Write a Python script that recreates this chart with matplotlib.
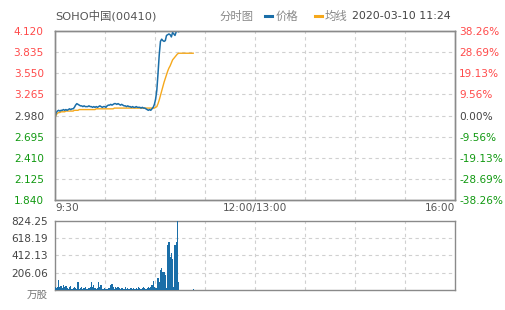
import matplotlib
matplotlib.use("Agg")
import matplotlib.pyplot as plt
import numpy as np

# ---------------- data ----------------
minutes = list(range(115))  # 9:30 .. 11:24
price = [2.95, 3.02, 3.04, 3.05, 3.04, 3.05, 3.05, 3.06, 3.05, 3.06,
         3.05, 3.06, 3.07, 3.06, 3.07, 3.07, 3.09, 3.12, 3.14, 3.13,
         3.12, 3.11, 3.11, 3.10, 3.11, 3.10, 3.10, 3.10, 3.11, 3.10,
         3.10, 3.09, 3.10, 3.09, 3.10, 3.09, 3.10, 3.11, 3.10, 3.09,
         3.10, 3.10, 3.09, 3.11, 3.12, 3.12, 3.13, 3.12, 3.13, 3.14,
         3.14, 3.13, 3.14, 3.13, 3.12, 3.13, 3.12, 3.11, 3.11, 3.10,
         3.11, 3.10, 3.10, 3.09, 3.10, 3.09, 3.09, 3.10, 3.09, 3.09,
         3.09, 3.08, 3.09, 3.08, 3.08, 3.07, 3.06, 3.05, 3.06, 3.05,
         3.07, 3.09, 3.13, 3.20, 3.32, 3.55, 3.80, 3.98, 4.01, 3.99,
         3.98, 3.99, 4.06, 4.07, 4.08, 4.07, 4.04, 4.10, 4.08, 4.06,
         4.11, 4.12, 4.11, 4.12, 4.12, 4.12, 4.12, 4.12, 4.12, 4.12,
         4.12, 4.12, 4.12, 4.12, 4.12]
avg = [2.95, 2.99, 3.01, 3.02, 3.02, 3.03, 3.03, 3.03, 3.03, 3.04,
       3.04, 3.04, 3.04, 3.04, 3.04, 3.04, 3.05, 3.05, 3.05, 3.05,
       3.06, 3.06, 3.06, 3.06, 3.06, 3.06, 3.06, 3.06, 3.06, 3.06,
       3.06, 3.06, 3.06, 3.06, 3.07, 3.07, 3.07, 3.07, 3.07, 3.07,
       3.07, 3.07, 3.07, 3.07, 3.07, 3.07, 3.07, 3.07, 3.07, 3.08,
       3.08, 3.08, 3.08, 3.08, 3.08, 3.08, 3.08, 3.08, 3.08, 3.08,
       3.08, 3.08, 3.08, 3.08, 3.08, 3.08, 3.08, 3.08, 3.08, 3.08,
       3.08, 3.08, 3.08, 3.08, 3.08, 3.08, 3.08, 3.08, 3.08, 3.08,
       3.08, 3.08, 3.08, 3.09, 3.10, 3.14, 3.19, 3.25, 3.31, 3.37,
       3.43, 3.48, 3.53, 3.58, 3.62, 3.65, 3.69, 3.73, 3.75, 3.77,
       3.79, 3.81, 3.82, 3.82, 3.82, 3.82, 3.82, 3.82, 3.82, 3.82,
       3.82, 3.82, 3.82, 3.82, 3.82]
volume = [30, 20, 40, 120, 30, 45, 20, 60, 40, 50,
          25, 15, 30, 45, 10, 20, 35, 25, 10, 95,
          15, 20, 30, 15, 25, 40, 15, 10, 20, 35,
          95, 30, 60, 20, 15, 25, 95, 40, 55, 10,
          15, 20, 15, 10, 20, 25, 60, 75, 40, 15,
          30, 20, 35, 20, 15, 25, 20, 15, 30, 15,
          20, 10, 25, 20, 15, 20, 10, 25, 15, 30,
          20, 15, 25, 40, 20, 15, 20, 35, 25, 30,
          60, 110, 30, 20, 20, 140, 90, 240, 260, 220,
          215, 180, 20, 535, 575, 400, 440, 375, 30, 535,
          570, 824.25, 100, 0, 0, 0, 0, 0, 0, 0,
          0, 0, 0, 0, 12]

prev_close = 2.980
price_ticks = [1.840, 2.125, 2.410, 2.695, 2.980, 3.265, 3.550, 3.835, 4.120]
pct_ticks = [-38.26, -28.69, -19.13, -9.56, 0.00, 9.56, 19.13, 28.69, 38.26]
vol_ticks = [206.06, 412.13, 618.19, 824.25]
time_ticks = [0, 165, 330]
time_labels = ["9:30", "12:00/13:00", "16:00"]
total_minutes = 330

# ---------------- style ----------------
RED = "#ff4a4a"
GREEN = "#119911"
GRAY = "#444444"
BLUE = "#1a6ea8"
ORANGE = "#f5a81c"
FRAME = "#8a8a8a"
GRID = "#d0d0d0"
FS = 7.6
CJK = ["DejaVu Sans", "Noto Sans CJK SC"]

fig = plt.figure(figsize=(5.05, 3.10), dpi=100)
W, H = 505, 310

def axrect(x0, y0, x1, y1):
    return [x0 / W, 1 - y1 / H, (x1 - x0) / W, (y1 - y0) / H]

ax = fig.add_axes(axrect(55, 31, 455, 200))
axv = fig.add_axes(axrect(55, 221, 455, 290))

vgrid = [total_minutes * k / 8 for k in range(1, 8)]

# main price axes
ax.set_xlim(0, total_minutes)
ax.set_ylim(price_ticks[0], price_ticks[-1])
for g in vgrid:
    ax.axvline(g, color=GRID, lw=0.8, ls=(0, (3, 3)), zorder=0)
for t in price_ticks[1:-1]:
    ax.axhline(t, color=GRID, lw=0.8, ls=(0, (3, 3)), zorder=0)
ax.plot(minutes, avg, color=ORANGE, lw=1.0, zorder=3)
ax.plot(minutes, price, color=BLUE, lw=1.1, zorder=4)

ax.set_yticks(price_ticks)
ax.set_yticklabels([f"{t:.3f}" for t in price_ticks], fontsize=FS)
for lab, t in zip(ax.get_yticklabels(), price_ticks):
    lab.set_color(RED if t > prev_close + 1e-9 else (GREEN if t < prev_close - 1e-9 else GRAY))
ax.tick_params(axis="y", length=0, pad=8)
ax.set_xticks(time_ticks)
ax.set_xticklabels(time_labels, fontsize=FS, color="#555555")
ax.tick_params(axis="x", length=0, pad=2)
for lab, ha in zip(ax.get_xticklabels(), ["left", "center", "right"]):
    lab.set_ha(ha)
for s in ax.spines.values():
    s.set_color(FRAME)
    s.set_linewidth(1.0)

ax2 = ax.twinx()
ax2.set_ylim(pct_ticks[0], pct_ticks[-1])
ax2.set_yticks(pct_ticks)
ax2.set_yticklabels([f"{t:.2f}%" for t in pct_ticks], fontsize=FS)
for lab, t in zip(ax2.get_yticklabels(), pct_ticks):
    lab.set_color(RED if t > 0 else (GREEN if t < 0 else GRAY))
ax2.tick_params(axis="y", length=0, pad=3)
for s in ax2.spines.values():
    s.set_color(FRAME)
    s.set_linewidth(1.0)

# volume axes
axv.set_xlim(0, total_minutes)
axv.set_ylim(0, vol_ticks[-1])
for g in vgrid:
    axv.axvline(g, color=GRID, lw=0.8, ls=(0, (3, 3)), zorder=0)
for t in vol_ticks[:-1]:
    axv.axhline(t, color=GRID, lw=0.8, ls=(0, (3, 3)), zorder=0)
axv.bar(minutes, volume, width=1.0, color=BLUE, align="center", zorder=3)
axv.set_yticks([0] + vol_ticks)
axv.set_yticklabels(["万股"] + [f"{t:.2f}" for t in vol_ticks], fontsize=FS, color=GRAY)
labs = axv.get_yticklabels()
labs[0].set_family(["Noto Sans CJK SC", "DejaVu Sans"])
labs[0].set_color("#777777")
labs[0].set_va("top")
axv.tick_params(axis="y", length=0, pad=5)
axv.set_xticks([])
for s in axv.spines.values():
    s.set_color(FRAME)
    s.set_linewidth(1.0)

# header
HF = FS + 0.6
fig.text(55 / W, 1 - 16 / H, "SOHO中国(00410)", fontsize=HF, color="#555555",
         family=CJK, va="center", ha="left")
fig.text(220 / W, 1 - 16 / H, "分时图", fontsize=HF, color="#888888",
         family=["Noto Sans CJK SC", "DejaVu Sans"], va="center", ha="left")
fig.lines.append(plt.Line2D([265 / W, 272 / W], [1 - 16 / H] * 2, color=BLUE, lw=2.2,
                            transform=fig.transFigure))
fig.text(276 / W, 1 - 16 / H, "价格", fontsize=HF, color="#888888",
         family=["Noto Sans CJK SC", "DejaVu Sans"], va="center", ha="left")
fig.lines.append(plt.Line2D([315 / W, 322 / W], [1 - 16 / H] * 2, color=ORANGE, lw=2.2,
                            transform=fig.transFigure))
fig.text(325 / W, 1 - 16 / H, "均线", fontsize=HF, color="#888888",
         family=["Noto Sans CJK SC", "DejaVu Sans"], va="center", ha="left")
fig.text(352 / W, 1 - 16 / H, "2020-03-10 11:24", fontsize=FS + 0.3, color="#444444",
         va="center", ha="left")

fig.savefig("out.png", dpi=100, facecolor="white")
